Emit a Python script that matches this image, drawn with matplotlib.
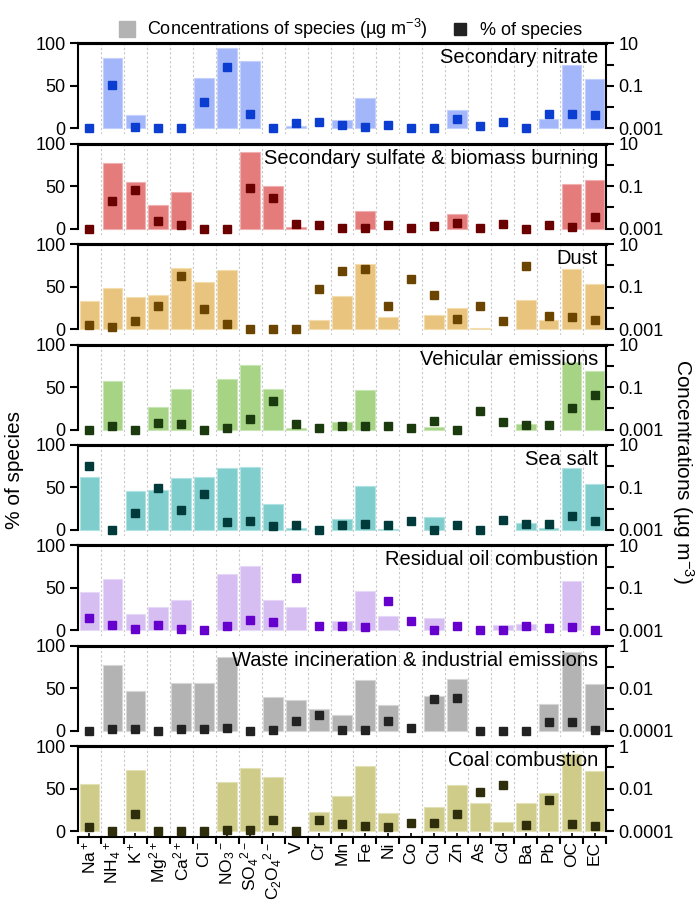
import numpy as np
import matplotlib
matplotlib.use("Agg")
import matplotlib.pyplot as plt
from matplotlib.lines import Line2D

plt.rcParams['font.family'] = ['Liberation Sans', 'DejaVu Sans']
plt.rcParams['mathtext.fontset'] = 'custom'
plt.rcParams['mathtext.rm'] = 'Liberation Sans'
plt.rcParams['mathtext.it'] = 'Liberation Sans:italic'
plt.rcParams['mathtext.bf'] = 'Liberation Sans:bold'

nan = np.nan

species = ['Na$^+$', 'NH$_4$$^+$', 'K$^+$', 'Mg$^{2+}$', 'Ca$^{2+}$', 'Cl$^-$',
           'NO$_3$$^-$', 'SO$_4$$^{2-}$', 'C$_2$O$_4$$^{2-}$', 'V', 'Cr', 'Mn',
           'Fe', 'Ni', 'Co', 'Cu', 'Zn', 'As', 'Cd', 'Ba', 'Pb', 'OC', 'EC']

# concentrations (ug m-3), nan = no bar
conc_nitrate = [nan, 2.1, 0.0042, nan, nan, 0.23, 6.3, 1.4, nan, 0.0013, nan, 0.0024,
                0.028, nan, nan, nan, 0.0076, nan, nan, nan, 0.0028, 0.91, 0.21]
conc_sulfate = [nan, 1.3, 0.16, 0.013, 0.052, nan, nan, 4.2, 0.10, 0.0012, nan, nan,
                0.0069, nan, nan, nan, 0.0052, nan, nan, nan, nan, 0.13, 0.19]
conc_dust = [0.021, 0.082, 0.033, 0.040, 0.79, 0.17, 0.58, nan, nan, nan, 0.0027, 0.036,
             1.15, 0.0036, nan, 0.0048, 0.010, 0.0011, nan, 0.024, 0.0028, 0.69, 0.14]
conc_vehicle = [nan, 0.19, nan, 0.011, 0.083, nan, 0.23, 1.07, 0.083, 0.0012, nan, 0.0022,
                0.069, nan, nan, 0.0013, nan, nan, nan, 0.0018, nan, 1.5, 0.55]
conc_seasalt = [0.30, nan, 0.067, 0.075, 0.275, 0.30, 0.79, 0.88, 0.017, 0.0012, nan, 0.0034,
                0.12, 0.0011, nan, 0.0041, nan, nan, nan, 0.0021, 0.0012, 0.83, 0.15]
conc_oil = [0.061, 0.25, 0.0056, 0.012, 0.027, nan, 0.47, 1.03, 0.026, 0.013, nan, 0.0029,
            0.074, 0.0046, nan, 0.0040, nan, nan, 0.0018, 0.0020, nan, 0.22, nan]
conc_waste = [nan, 0.12, 0.0076, nan, 0.017, 0.017, 0.28, nan, 0.0038, 0.0027, 0.0010, 0.00054,
              0.024, 0.0016, nan, 0.0044, 0.027, nan, nan, nan, 0.0019, 0.52, 0.015]
conc_coal = [0.017, nan, 0.072, nan, nan, nan, 0.020, 0.093, 0.035, nan, 0.00078, 0.0047,
             0.11, 0.00069, nan, 0.0013, 0.015, 0.0021, 0.00026, 0.0020, 0.0065, 0.42, 0.069]

# % of species
pct_nitrate = [0.5, 50.6, 1, 0, 0, 31, 72.5, 16.5, 0, 6, 7.5, 3.5, 1.5, 3.5, 0.5, 0, 10.7,
               3, 7.5, 0, 16.5, 17, 15.7]
pct_sulfate = [0, 32.5, 45, 9.4, 4, 0, 0, 47.5, 36, 6, 4.7, 1.2, 0.8, 4, 1.2, 3, 7, 1.2, 5,
               0, 4.3, 2, 13.7]
pct_dust = [4.7, 2, 9.4, 26.7, 62.7, 23.5, 6.3, 0, 0, 0, 47, 68, 71, 27.5, 59, 40, 12.5,
            27.5, 10, 73.7, 15.7, 14.5, 10.6]
pct_vehicle = [0, 4, 0, 7.5, 6.3, 0, 2, 12.5, 33, 6, 1.6, 4, 4, 4.3, 1.6, 9.8, 0, 21.6,
               8.6, 5.5, 5, 25.5, 41]
pct_seasalt = [75.6, 0, 19.8, 48.8, 22.9, 41.9, 9.7, 10.5, 5, 5.5, 0, 6.3, 7, 6.3, 10, 0,
               5.5, 0, 12, 7, 7, 16, 10.5]
pct_oil = [14.5, 6, 1, 6.7, 2, 0, 4.7, 11.8, 9.4, 61.5, 4.7, 4.7, 4.3, 34, 11.4, 0, 4.7,
           0, 0, 5, 2.4, 3.5, 0]
pct_waste = [0, 2.4, 1.6, 0, 1.6, 2.4, 3, 0, 1.2, 12, 18, 0.8, 0.8, 11.4, 2.7, 36.9, 38,
             0, 0, 0, 10.6, 10.2, 0.8]
pct_coal = [4.3, 0, 20.7, 0, 0, 0, 0.8, 1.6, 13.3, 0, 13, 8.6, 6.6, 5, 9.4, 10, 19.8,
            45.7, 54.7, 7, 36.4, 8.5, 6.2]

factors = ['Secondary nitrate', 'Secondary sulfate & biomass burning', 'Dust',
           'Vehicular emissions', 'Sea salt', 'Residual oil combustion',
           'Waste incineration & industrial emissions', 'Coal combustion']
concs = [conc_nitrate, conc_sulfate, conc_dust, conc_vehicle, conc_seasalt, conc_oil,
         conc_waste, conc_coal]
pcts = [pct_nitrate, pct_sulfate, pct_dust, pct_vehicle, pct_seasalt, pct_oil,
        pct_waste, pct_coal]
# decade range of right axis (log10 min, log10 max)
decades = [(-3, 1)] * 6 + [(-4, 0)] * 2

bar_colors = ['#a3b6fa', '#e57c7c', '#e9c47e', '#a6d384', '#7fcdcd', '#d6bdf2',
              '#b3b3b3', '#cfcb88']
edge_colors = ['#c3d0fb', '#f0b0b0', '#f3dcae', '#c8e5b4', '#b0e2e2', '#e6d8f7',
               '#d6d6d6', '#e2e0b7']
sq_colors = ['#0c3dd1', '#6a0000', '#6b4400', '#1b3a0e', '#003a3a', '#6600cc',
             '#222222', '#2e2e0c']

fig = plt.figure(figsize=(6.98, 9), dpi=100)
W, H = 698, 900
left_px, right_px = 78, 606
ymin = -7
fs = 13
x = np.arange(len(species))

for k in range(8):
    top_px = 43.3 + 100.4 * k
    h_px = 91
    ax = fig.add_axes([left_px / W, 1 - (top_px + h_px) / H,
                       (right_px - left_px) / W, h_px / H])
    ax2 = ax.twinx()
    lo, hi = decades[k]
    base = 10.0 ** lo

    c = np.array(concs[k], dtype=float)
    m = ~np.isnan(c)
    ax2.bar(x[m], c[m] - base, bottom=base, width=0.86, color=bar_colors[k],
            edgecolor=edge_colors[k], linewidth=0.8, zorder=2)
    for b in np.arange(0.5, len(species) - 1, 1):
        ax2.axvline(b, color='#c8c8c8', lw=0.8, ls=(0, (2, 2)), zorder=0)
    ax2.set_yscale('log')
    ax2.set_ylim(10 ** (lo + ymin / 25.0), 10.0 ** hi)
    ax2.set_yticks([10.0 ** e for e in range(lo, hi + 1)])
    labs = []
    for i, e in enumerate(range(lo, hi + 1)):
        if i % 2 == 0:
            labs.append('%g' % (10.0 ** e) if e < 0 else str(int(10 ** e)))
        else:
            labs.append('')
    ax2.set_yticklabels(labs)
    ax2.yaxis.set_minor_locator(matplotlib.ticker.NullLocator())
    ax2.tick_params(axis='y', direction='out', length=6, width=1.5, labelsize=fs, pad=3)

    ax.plot(x, pcts[k], ls='none', marker='s', ms=5.5, color=sq_colors[k],
            mec=sq_colors[k], clip_on=False, zorder=5)
    ax.set_ylim(ymin, 100)
    ax.set_xlim(-0.5, len(species) - 0.5)
    ax.set_yticks([0, 50, 100])
    ax.tick_params(axis='y', direction='out', length=6, width=1.5, labelsize=fs, pad=3)
    ax.text(0.985, 0.945, factors[k], transform=ax.transAxes, ha='right', va='top',
            fontsize=14.5, zorder=6)

    ax.set_zorder(ax2.get_zorder() + 1)
    ax.patch.set_visible(False)

    for a in (ax, ax2):
        a.spines['top'].set_linewidth(2.2)
        a.spines['bottom'].set_visible(False)
    ax.spines['right'].set_visible(False)
    ax.spines['left'].set_bounds(0, 100)
    ax.spines['left'].set_linewidth(1.5)
    ax2.spines['left'].set_visible(False)
    ax2.spines['right'].set_bounds(base, 10.0 ** hi)
    ax2.spines['right'].set_linewidth(1.5)

    if k < 7:
        ax.tick_params(axis='x', bottom=False, labelbottom=False)
        ax2.tick_params(axis='x', bottom=False, labelbottom=False)
    else:
        ax.spines['bottom'].set_visible(True)
        ax.spines['bottom'].set_linewidth(1.5)
        ax.set_xticks(x)
        ax.set_xticklabels(species, rotation=90, fontsize=12.5)
        ax.set_xticks(np.arange(-0.5, len(species)), minor=True)
        ax.tick_params(axis='x', which='major', direction='in', length=3, width=1.2, pad=3)
        ax.tick_params(axis='x', which='minor', direction='out', length=5, width=1.5)

handles = [Line2D([], [], ls='none', marker='s', ms=11, color='#b3b3b3'),
           Line2D([], [], ls='none', marker='s', ms=9, color='#222222')]
fig.legend(handles, ['Concentrations of species (µg m$^{-3}$)', '% of species'],
           loc='center', bbox_to_anchor=(0.5, 1 - 29 / H), ncol=2, frameon=False,
           fontsize=fs, handletextpad=0.5, columnspacing=1.2, handlelength=1.2)

fig.text(15 / W, 1 - 470 / H, '% of species', rotation=90, ha='center', va='center',
         fontsize=15)
fig.text(683 / W, 1 - 472 / H, 'Concentrations (µg m$^{-3}$)', rotation=270,
         ha='center', va='center', fontsize=15)

fig.savefig('out.png', dpi=100)
